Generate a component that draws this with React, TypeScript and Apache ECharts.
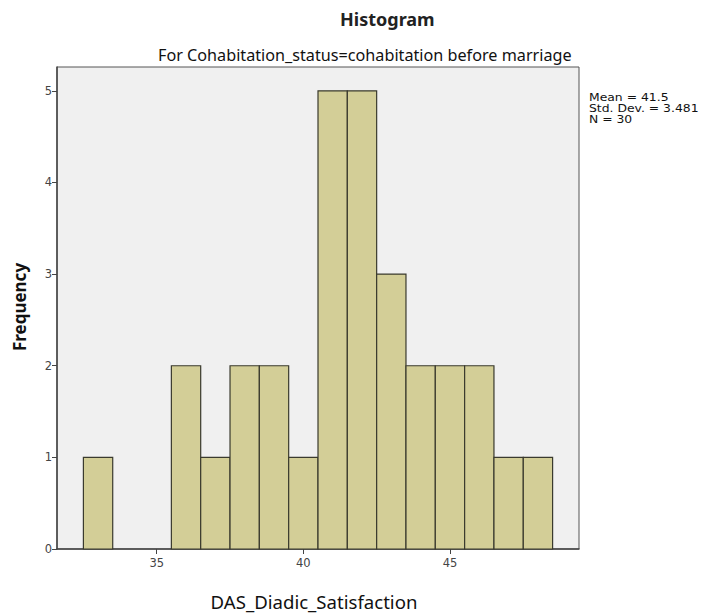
import React, { useEffect, useRef } from "react";
import * as echarts from "echarts";

const binCenters = [33, 34, 35, 36, 37, 38, 39, 40, 41, 42, 43, 44, 45, 46, 47, 48];
const frequencies = [1, 0, 0, 2, 1, 2, 2, 1, 5, 5, 3, 2, 2, 2, 1, 1];
const xTickValues = [35, 40, 45];
const statsLines = ["Mean = 41.5", "Std. Dev. = 3.481", "N = 30"];
const titleText = "Histogram";
const subtitleText = "For Cohabitation_status=cohabitation before marriage";
const xAxisName = "DAS_Diadic_Satisfaction";
const yAxisName = "Frequency";

export default function App() {
  const ref = useRef<HTMLDivElement>(null);
  useEffect(() => {
    if (!ref.current) return;
    const chart = echarts.init(ref.current, undefined, { renderer: "svg" });
    const data = binCenters.map((c, i) => [c, frequencies[i]]);
    const statsGraphics = statsLines.map((line, i) => ({
      type: "text",
      x: 589,
      y: 97 + i * 11,
      scaleX: 1.18,
      style: {
        text: line,
        font: "10.5px 'DejaVu Sans'",
        fill: "#111111",
        verticalAlign: "middle",
      },
    }));
    chart.setOption({
      animation: false,
      backgroundColor: "#ffffff",
      grid: {
        left: 57,
        top: 67,
        right: 126,
        bottom: 65,
        show: true,
        backgroundColor: "#f0f0f0",
        borderColor: "#555555",
        borderWidth: 1,
      },
      xAxis: {
        type: "value",
        min: 31.6,
        max: 49.4,
        splitLine: { show: false },
        axisLine: { show: true, lineStyle: { color: "#444444", width: 1.5 } },
        axisTick: {
          show: true,
          length: 5,
          customValues: xTickValues,
          lineStyle: { color: "#444444" },
        },
        axisLabel: {
          customValues: xTickValues,
          color: "#444444",
          fontFamily: "DejaVu Sans",
          fontSize: 11.5,
          margin: 8,
        },
      },
      yAxis: {
        type: "value",
        min: 0,
        max: 5.26,
        interval: 1,
        splitLine: { show: false },
        axisLine: { show: true, lineStyle: { color: "#444444", width: 1.5 } },
        axisTick: { show: true, length: 5, lineStyle: { color: "#444444" } },
        axisLabel: {
          color: "#444444",
          fontFamily: "DejaVu Sans",
          fontSize: 11.5,
          margin: 5,
          showMaxLabel: false,
        },
      },
      series: [
        {
          type: "custom",
          data,
          renderItem: (params: any, api: any) => {
            const x = api.value(0);
            const y = api.value(1);
            if (!y) return null;
            const p1 = api.coord([x - 0.5, y]);
            const p2 = api.coord([x + 0.5, 0]);
            return {
              type: "rect",
              shape: { x: p1[0], y: p1[1], width: p2[0] - p1[0], height: p2[1] - p1[1] },
              style: { fill: "#d3ce97", stroke: "#3a3a2e", lineWidth: 1.2 },
            };
          },
        },
      ],
      graphic: [
        {
          type: "text",
          x: 340,
          y: 19,
          style: {
            text: titleText,
            font: "bold 18px 'Noto Sans'",
            fill: "#222222",
            verticalAlign: "middle",
          },
        },
        {
          type: "text",
          x: 158,
          y: 55,
          style: {
            text: subtitleText,
            font: "16.2px 'Noto Sans'",
            fill: "#111111",
            verticalAlign: "middle",
          },
        },
        {
          type: "text",
          x: 19,
          y: 307,
          rotation: Math.PI / 2,
          style: {
            text: yAxisName,
            font: "bold 17px 'Noto Sans'",
            fill: "#111111",
            align: "center",
            verticalAlign: "middle",
          },
        },
        {
          type: "text",
          x: 314,
          y: 601,
          style: {
            text: xAxisName,
            font: "18.6px 'Noto Sans'",
            lineHeight: 20,
            fill: "#111111",
            align: "center",
            verticalAlign: "middle",
          },
        },
        ...statsGraphics,
      ],
    });
    return () => chart.dispose();
  }, []);
  return (
    <div
      ref={ref}
      style={{ position: "fixed", left: 0, top: 0, width: 705, height: 614 }}
    />
  );
}
